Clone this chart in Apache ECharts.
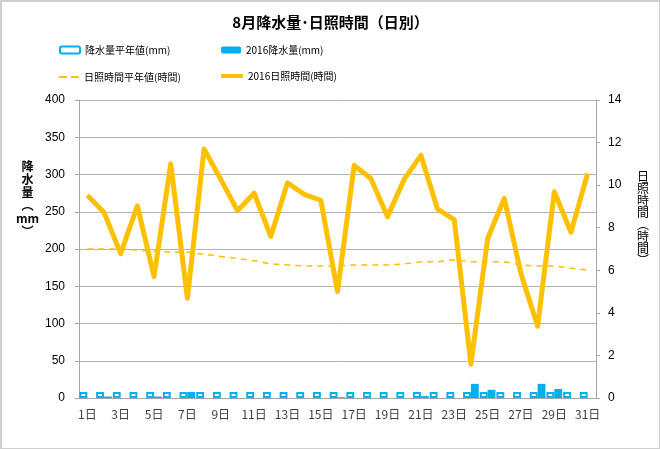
<!DOCTYPE html>
<html><head><meta charset="utf-8">
<script src="https://cdn.jsdelivr.net/npm/echarts@6/dist/echarts.min.js"></script>
<style>
html,body{margin:0;padding:0;background:#fff;}
#c{width:660px;height:449px;box-sizing:border-box;border:1px solid #cfcfcf;border-left-width:2px;border-top-width:2px;}
</style></head>
<body><div id="c"></div>
<script>
const days = Array.from({length:31},(_,i)=> (i+1)+'日');
const rainNormal = [8,8,8,8,8,8,8,8,8,8,8,8,8,8,8,8,8,8,8,8,8,8,8,8,8,8,8,8,8,8,8];
const rain2016 = [0,2,0,0,2,0,8,0,0,0,0,0,0,0,0,1,0,0,0,0,2.5,0,0,19,11,0,0,19,12,0,0];
const sunNormal = [7.0,7.0,7.0,6.95,6.9,6.85,6.85,6.75,6.65,6.55,6.45,6.3,6.25,6.2,6.2,6.2,6.25,6.25,6.25,6.3,6.4,6.4,6.5,6.4,6.4,6.4,6.25,6.2,6.2,6.1,6.0];
const sun2016 = [9.52,8.72,6.78,9.03,5.7,11.0,4.69,11.7,10.27,8.8,9.62,7.59,10.11,9.57,9.29,5.0,10.93,10.31,8.52,10.27,11.4,8.87,8.38,1.59,7.48,9.38,5.85,3.37,9.69,7.79,10.55];

const JP = '"Noto Sans CJK JP","Noto Sans",sans-serif';
const NUM = '"Liberation Sans","Noto Sans CJK JP",sans-serif';
const blue = '#00b0f0', gold = '#ffc000';
const chart = echarts.init(document.getElementById('c'), null, {renderer:'canvas'});
const legendText = {color:'#000', fontSize:10, fontFamily:JP};
chart.setOption({
  animation:false,
  title:{text:'8月降水量･日照時間（日別）', left:'center', top:8,
    textStyle:{fontSize:15, fontWeight:'bold', color:'#000', fontFamily:JP}},
  legend:[
    {data:['降水量平年値(mm)'], left:52, top:38, itemWidth:20, itemHeight:7, itemGap:2, textStyle:legendText},
    {data:['2016降水量(mm)'], left:214, top:38, itemWidth:20, itemHeight:7, itemGap:2, textStyle:legendText},
    {data:[{name:'日照時間平年値(時間)', icon:'path://M0,0H8V2H0Z M12,0H20V2H12Z'}], left:52, top:65, itemWidth:20, itemHeight:2, itemGap:4,
      itemStyle:{color:gold, borderWidth:0}, textStyle:legendText},
    {data:[{name:'2016日照時間(時間)', icon:'roundRect'}], left:214, top:64, itemWidth:22, itemHeight:4, itemGap:2,
      itemStyle:{color:gold, borderWidth:0}, textStyle:legendText}
  ],
  grid:{left:77, right:63, top:98, bottom:50},
  xAxis:{type:'category', data:days, boundaryGap:true,
    axisLine:{lineStyle:{color:'#a6a6a6'}}, axisTick:{show:false},
    axisLabel:{interval:1, color:'#404040', fontSize:12, fontFamily:JP, margin:10}},
  yAxis:[
    {type:'value', min:0, max:400, interval:50,
      axisLine:{show:true, lineStyle:{color:'#a6a6a6'}},
      axisTick:{show:true, length:4, lineStyle:{color:'#a6a6a6'}},
      axisLabel:{color:'#000', fontSize:12, fontFamily:NUM, margin:14},
      splitLine:{lineStyle:{color:'#b3b3b3'}}},
    {type:'value', min:0, max:14, interval:2,
      axisLine:{show:true, lineStyle:{color:'#a6a6a6'}},
      axisTick:{show:true, length:4, lineStyle:{color:'#a6a6a6'}},
      axisLabel:{color:'#000', fontSize:12, fontFamily:NUM, margin:12},
      splitLine:{show:false}}
  ],
  graphic:[
    {type:'text', left:14, top:158, style:{text:'降\n水\n量\n︵\nmm\n︶', font:'bold 12px '+JP, fill:'#000', textAlign:'center', lineHeight:13}},
    {type:'text', left:635, top:168, style:{text:'日\n照\n時\n間\n︵\n時\n間\n︶', font:'12px '+JP, fill:'#000', textAlign:'center', lineHeight:12}}
  ],
  series:[
    {name:'降水量平年値(mm)', type:'bar', data:rainNormal, yAxisIndex:0,
      barGap:'0%', barCategoryGap:'6%',
      itemStyle:{color:'#fff', borderColor:blue, borderWidth:2}},
    {name:'2016降水量(mm)', type:'bar', data:rain2016, yAxisIndex:0,
      barGap:'0%', barCategoryGap:'6%',
      itemStyle:{color:blue}},
    {name:'日照時間平年値(時間)', type:'line', data:sunNormal, yAxisIndex:1,
      symbol:'none', smooth:false,
      lineStyle:{color:gold, width:1.5, type:[6,5]}, itemStyle:{color:gold}},
    {name:'2016日照時間(時間)', type:'line', data:sun2016, yAxisIndex:1,
      symbol:'none',
      lineStyle:{color:gold, width:5, join:'round'}, itemStyle:{color:gold}}
  ]
});
</script></body></html>
